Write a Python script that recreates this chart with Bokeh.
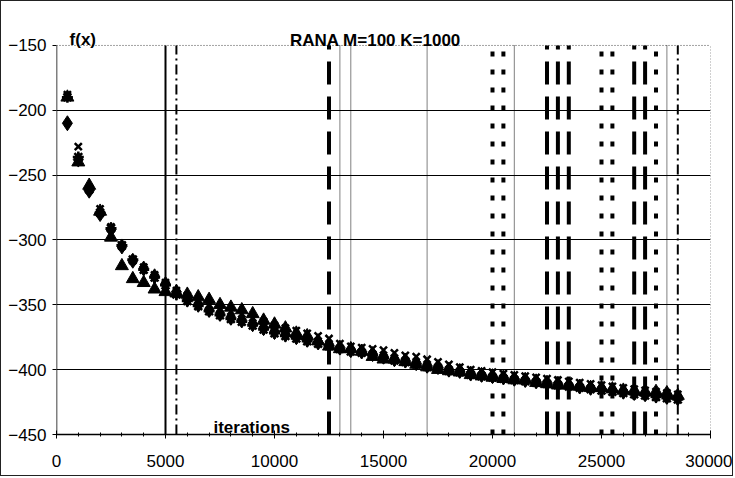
from bokeh.plotting import figure
from bokeh.models import Label, Range1d, FixedTicker
from bokeh.embed import file_html
from bokeh.resources import INLINE

# ---- data ----
iterations = [500, 1000, 1500, 2000, 2500, 3000, 3500, 4000, 4500, 5000,
              5500, 6000, 6500, 7000, 7500, 8000, 8500, 9000, 9500, 10000,
              10500, 11000, 11500, 12000, 12500, 13000, 13500, 14000, 14500, 15000,
              15500, 16000, 16500, 17000, 17500, 18000, 18500, 19000, 19500, 20000,
              20500, 21000, 21500, 22000, 22500, 23000, 23500, 24000, 24500, 25000,
              25500, 26000, 26500, 27000, 27500, 28000, 28500]

diamond_vals = [-210, -238, -262, -280, -292, -305, -316, -322, -328, -334,
                -340, -346, -350, -354, -357, -360, -362, -365, -368, -371,
                -373, -375, -377, -379, -381, -383, -385, -386, -388, -390,
                -392, -393, -395, -397, -398, -400, -401, -403, -404, -405,
                -406, -407, -408, -409, -410, -411, -412, -413, -414, -415,
                -416, -417, -418, -419, -420, -421, -422]

triangle_vals = [-190, -240, -258, -278, -298, -320, -330, -333, -338, -340,
                 -341, -342, -344, -346, -350, -352, -354, -357, -362, -365,
                 -368, -372, -374, -378, -382, -384, -384, -386, -390, -392,
                 -392, -394, -396, -398, -400, -401, -402, -404, -405, -406,
                 -407, -408, -408, -410, -411, -412, -412, -413, -414, -414,
                 -415, -416, -416, -417, -417, -418, -420]

x_vals = [-188, -228, -260, -276, -290, -305, -316, -321, -327, -333,
          -339, -343, -347, -350, -353, -355, -357, -360, -363, -366,
          -368, -370, -372, -374, -376, -380, -382, -383, -384, -385,
          -387, -389, -390, -392, -394, -396, -398, -400, -401, -402,
          -403, -404, -405, -406, -407, -408, -409, -410, -411, -412,
          -413, -414, -415, -416, -417, -418, -419]

star_vals = [-190, -236, -261, -279, -291, -304, -315, -323, -329, -335,
             -342, -347, -351, -355, -358, -361, -363, -366, -369, -372,
             -374, -376, -378, -380, -382, -384, -386, -387, -389, -391,
             -393, -394, -396, -398, -399, -401, -402, -404, -405, -406,
             -407, -408, -409, -410, -411, -412, -413, -414, -415, -416,
             -417, -418, -419, -420, -421, -422, -423]

solid_lines = [5000]
dashdot_lines = [5500, 28500]
longdash_lines = [12500, 22500, 23000, 23500, 26500, 27000]
thickdot_lines = [20000, 20500, 25000, 25500, 27500]
thindot_lines = [13000, 13500, 17000, 21000, 28000]

x_ticks = [0, 5000, 10000, 15000, 20000, 25000, 30000]
y_ticks = [-450, -400, -350, -300, -250, -200, -150]

title_text = "RANA M=100 K=1000"
ylabel_text = "f(x)"
xlabel_text = "iterations"

FONT = "Liberation Sans"
X_MIN, X_MAX = x_ticks[0], x_ticks[-1]
Y_MIN, Y_MAX = y_ticks[0], y_ticks[-1]

p = figure(width=733, height=476, output_backend="svg", toolbar_location=None,
           x_range=Range1d(X_MIN, X_MAX), y_range=Range1d(Y_MIN, -130),
           min_border_left=55, min_border_right=24, min_border_top=18,
           min_border_bottom=43)
p.styles = {"border": "1px solid #222"}
p.background_fill_color = "white"
p.border_fill_color = "white"
p.outline_line_color = None

# axes
p.xaxis.ticker = FixedTicker(ticks=x_ticks,
                             minor_ticks=list(range(X_MIN, X_MAX + 1, 1000)))
p.yaxis.ticker = FixedTicker(ticks=y_ticks)
for ax in (p.xaxis, p.yaxis):
    ax.major_tick_line_color = "black"
    ax.major_label_text_font = FONT
    ax.major_label_text_font_size = "17px"
    ax.major_label_text_color = "black"
p.xaxis.axis_line_color = "black"
p.xaxis.axis_line_width = 1.5
p.yaxis.axis_line_color = None
p.xaxis.major_tick_in = 4
p.xaxis.major_tick_out = 4
p.xaxis.minor_tick_in = 2
p.xaxis.minor_tick_out = 2
p.xaxis.minor_tick_line_color = "black"
p.xaxis.major_label_standoff = 16
p.yaxis.major_tick_in = 0
p.yaxis.major_tick_out = 4
p.yaxis.minor_tick_line_color = None
p.yaxis.major_label_standoff = 6

p.xgrid.grid_line_color = None
p.ygrid.grid_line_color = "black"
p.ygrid.grid_line_width = 1
p.ygrid.ticker = FixedTicker(ticks=y_ticks[1:-1])

# plot-area frame pieces: left axis line, dotted top and right edges
p.segment(x0=[X_MIN], y0=[Y_MIN], x1=[X_MIN], y1=[Y_MAX],
          line_color="black", line_width=1.5)
p.segment(x0=[X_MIN], y0=[Y_MAX], x1=[X_MAX], y1=[Y_MAX],
          line_color="#444", line_width=1, line_dash="1 2")
p.segment(x0=[X_MAX], y0=[Y_MIN], x1=[X_MAX], y1=[Y_MAX],
          line_color="#444", line_width=1, line_dash="1 2")

# vertical marker lines
def vlines(xs, width, dash):
    p.segment(x0=xs, y0=[Y_MIN] * len(xs), x1=xs, y1=[Y_MAX] * len(xs),
              line_color="black", line_width=width, line_dash=dash)

vlines(solid_lines, 2, "solid")
vlines(dashdot_lines, 2, "10 4 2 4")
vlines(longdash_lines, 4, "23 12")
vlines(thickdot_lines, 4, "5 13")
vlines(thindot_lines, 1, "1 1")

# scatter series
p.scatter(iterations, diamond_vals, marker="diamond", size=15,
          color="black")
p.scatter(iterations, star_vals, marker="asterisk", size=11,
          line_color="black", line_width=2.5)
p.scatter(iterations, x_vals, marker="x", size=10, line_color="black",
          line_width=2.5)
p.scatter(iterations, triangle_vals, marker="triangle", size=13,
          color="black")

# text labels
def label(x, y, text, align):
    p.add_layout(Label(x=x, y=y, text=text, text_font=FONT,
                       text_font_size="17px", text_font_style="bold",
                       text_align=align, text_baseline="alphabetic",
                       text_color="black"))

label(14630, -146, title_text, "center")
label(600, -145.5, ylabel_text, "left")
label(7200, -444.5, xlabel_text, "left")

open("out.html", "w").write(file_html(p, INLINE))
